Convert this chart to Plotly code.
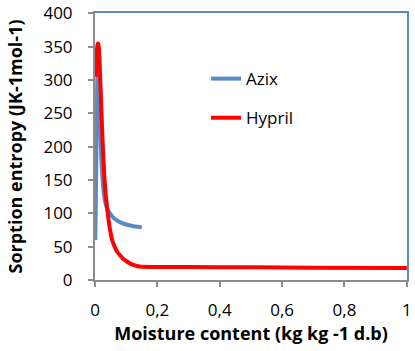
import plotly.graph_objects as go

azix_x = [0.001, 0.004, 0.007, 0.009, 0.011, 0.013, 0.016, 0.020, 0.025, 0.030, 0.035, 0.040, 0.048, 0.058, 0.075, 0.095, 0.12, 0.15]
azix_y = [60, 170, 290, 335, 345, 320, 250, 185, 145, 124, 113, 106, 100, 94, 88, 84, 81, 79]

hypril_x = [0.002, 0.004, 0.006, 0.008, 0.010, 0.012, 0.014, 0.017, 0.020, 0.025, 0.030, 0.034, 0.038, 0.043, 0.048, 0.055, 0.064, 0.072, 0.08, 0.09, 0.10, 0.11, 0.12, 0.135, 0.15, 0.3, 0.5, 0.7, 1.0]
hypril_y = [305, 325, 343, 353, 355, 350, 335, 300, 260, 200, 155, 130, 112, 92, 76, 60, 49, 42, 37, 32, 28.5, 25.5, 23, 21, 20, 19.5, 19, 18.5, 18]

x_ticks = [0, 0.2, 0.4, 0.6, 0.8, 1.0]
y_ticks = [0, 50, 100, 150, 200, 250, 300, 350, 400]

BLUE = "#5A8AC6"
RED = "#FF0000"
GRAY = "#8C8C8C"
FONT = "Open Sans"
X_RANGE = [0, 1.0005]
Y_RANGE = [0, 400.5]

fig = go.Figure()
fig.add_trace(go.Scatter(x=azix_x, y=azix_y, mode="lines", name="Azix",
                         line=dict(color=BLUE, width=4, shape="spline", smoothing=0.3),
                         legendgroup="a"))
fig.add_trace(go.Scatter(x=hypril_x, y=hypril_y, mode="lines", name="Hypril",
                         line=dict(color=RED, width=4, shape="spline", smoothing=0.3),
                         legendgroup="b"))
# invisible helper trace so the top/right frame axes are drawn
fig.add_trace(go.Scatter(x=[None], y=[None], xaxis="x2", yaxis="y2",
                         showlegend=False, hoverinfo="skip"))

fig.update_layout(
    width=415, height=351,
    margin=dict(l=95, r=8, t=13, b=71),
    paper_bgcolor="white", plot_bgcolor="white",
    separators=",.",
    font=dict(family=FONT, size=17, color="black"),
    showlegend=True,
    legend=dict(x=0.356, y=0.82, xanchor="left", yanchor="top",
                bgcolor="rgba(0,0,0,0)", font=dict(size=17, family=FONT),
                tracegroupgap=14),
    xaxis=dict(range=X_RANGE, tickvals=x_ticks, ticks="outside", ticklen=5, tickwidth=2,
               tickcolor=GRAY, showline=True, linecolor=GRAY, linewidth=2,
               showgrid=False, zeroline=False, automargin=False,
               ticklabelstandoff=9,
               tickfont=dict(size=17, family=FONT),
               title=dict(text="<b>Moisture content (kg kg -1 d.b)</b>",
                          font=dict(size=18, family=FONT), standoff=7)),
    yaxis=dict(range=Y_RANGE, tickvals=y_ticks, ticks="outside", ticklen=5, tickwidth=2,
               tickcolor=GRAY, showline=True, linecolor=GRAY, linewidth=2,
               showgrid=False, zeroline=False, automargin=False,
               ticklabelstandoff=12,
               tickfont=dict(size=17, family=FONT),
               title=dict(text="<b>Sorption entropy (JK-1mol-1)</b>",
                          font=dict(size=18, family=FONT), standoff=16)),
    xaxis2=dict(overlaying="x", side="top", anchor="y", range=X_RANGE,
                showline=True, linecolor=BLUE, linewidth=2, ticks="",
                showticklabels=False, showgrid=False, zeroline=False, automargin=False),
    yaxis2=dict(overlaying="y", side="right", anchor="x", range=Y_RANGE,
                showline=True, linecolor=BLUE, linewidth=2, ticks="",
                showticklabels=False, showgrid=False, zeroline=False, automargin=False),
)

fig.write_html("out.html",
               config={"displayModeBar": False},
               post_script="document.body.style.margin='0';document.body.style.overflow='hidden';")
